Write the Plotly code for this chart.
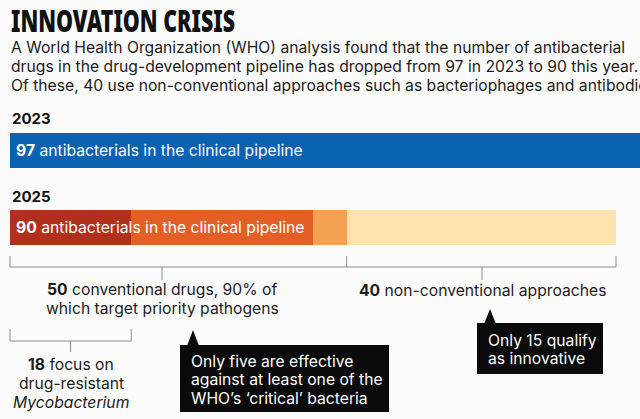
import plotly.graph_objects as go

# ---- data ----
years = ["2023", "2025"]
total_2023 = 97
seg_labels_2025 = ["Mycobacterium", "Other conventional", "Effective vs critical", "Non-conventional"]
seg_values_2025 = [18, 27, 5, 40]
seg_colors_2025 = ["#b1301b", "#e35f26", "#f4a252", "#fde3ae"]
color_2023 = "#0a63b2"
conventional = 50
non_conventional = 40
mycobacterium = 18

W, H = 640, 419
BAR_PX_LEFT = 10
PX_PER_UNIT = 606 / 90.0
BG = "#fbfbfb"
TXT = "#1c1c1c"
BODY = "Inter, 'Noto Sans', sans-serif"
FS = 15.7
TITLE_FONT = "'Noto Sans', Inter, sans-serif"
TITLE_WIDTH_PX = 224


def P(xpx):
    return xpx / W


fig = go.Figure()

row_y = {"2023": 150.5, "2025": 227.5}
bar_h = 35

fig.add_trace(go.Bar(
    orientation="h", y=[row_y["2023"]], x=[total_2023], width=bar_h,
    marker=dict(color=color_2023, line=dict(width=0)), hoverinfo="skip", showlegend=False,
))
for lab, v, c in zip(seg_labels_2025, seg_values_2025, seg_colors_2025):
    fig.add_trace(go.Bar(
        orientation="h", y=[row_y["2025"]], x=[v], width=bar_h, name=lab,
        marker=dict(color=c, line=dict(width=0)), hoverinfo="skip", showlegend=False,
    ))

x0 = -BAR_PX_LEFT / PX_PER_UNIT
x1 = (W - BAR_PX_LEFT) / PX_PER_UNIT

fig.update_layout(
    width=W, height=H, margin=dict(l=0, r=0, t=0, b=0),
    paper_bgcolor=BG, plot_bgcolor=BG, barmode="stack", bargap=0,
    xaxis=dict(range=[x0, x1], visible=False, fixedrange=True),
    yaxis=dict(range=[H, 0], visible=False, fixedrange=True),
)

ann = []


def text(t, xpx, ypx, anchor="left", size=FS, color=TXT, family=BODY, weight=None):
    f = dict(family=family, size=size, color=color)
    if weight:
        f["weight"] = weight
    ann.append(dict(text=t, x=P(xpx), y=ypx, xref="paper", yref="y",
                    xanchor=anchor, yanchor="middle", showarrow=False, font=f))


def lines(ts, xpx, y_first, step, anchor="left", size=FS, color=TXT):
    for i, t in enumerate(ts):
        text(t, xpx, y_first + i * step, anchor=anchor, size=size, color=color)


# Title (first annotation; condensed horizontally by the post script)
text("INNOVATION CRISIS", 9, 20, size=30, color="#111111", family=TITLE_FONT, weight=900)
sub_lines = [
    "A World Health Organization (WHO) analysis found that the number of antibacterial",
    "drugs in the drug-development pipeline has dropped from 97 in 2023 to 90 this year.",
    "Of these, 40 use non-conventional approaches such as bacteriophages and antibodies.",
]
lines(sub_lines, 9, 47, 19)

# Year labels
text("<b>%s</b>" % years[0], 10, 118, size=15, color="#111111")
text("<b>%s</b>" % years[1], 10, 196, size=15, color="#111111")

# Bar texts
text("<b>%d</b> antibacterials in the clinical pipeline" % total_2023, 14, row_y["2023"], color="white")
text("<b>%d</b> antibacterials in the clinical pipeline" % sum(seg_values_2025), 14, row_y["2025"], color="white")

shapes = []
LC = "#8c8c8c"


def line(xa, ya, xb, yb, xref="x"):
    shapes.append(dict(type="line", xref=xref, yref="y", x0=xa, y0=ya, x1=xb, y1=yb,
                       line=dict(color=LC, width=1)))


# Bracket for conventional / non-conventional
top, mid = 256, 267
line(0, top, 0, mid)
line(conventional, top, conventional, mid)
line(conventional + non_conventional, top, conventional + non_conventional, mid)
line(0, mid, conventional + non_conventional, mid)
lab1_x = 162
lab2_x = 482
line(P(lab1_x), mid, P(lab1_x), 280, xref="paper")
line(P(lab2_x), mid, P(lab2_x), 280, xref="paper")

lines(["<b>%d</b> conventional drugs, 90%% of" % conventional, "which target priority pathogens"],
      lab1_x, 289, 19, anchor="center")
text("<b>%d</b> non-conventional approaches" % non_conventional, lab2_x, 290, anchor="center")

# Mycobacterium bracket
t3, m3 = 329, 341
line(0, t3, 0, m3)
line(mycobacterium, t3, mycobacterium, m3)
line(0, m3, mycobacterium, m3)
line(mycobacterium / 2, m3, mycobacterium / 2, 352)
lines(["<b>%d</b> focus on" % mycobacterium, "drug-resistant", "<i>Mycobacterium</i>"],
      71, 364, 19, anchor="center")


# Callout boxes
def callout(xl, yt, xr, yb, apex_x, apex_y, ts, y_first, step):
    shapes.append(dict(type="rect", xref="paper", yref="y", x0=P(xl), x1=P(xr), y0=yt, y1=yb,
                       fillcolor="#0a0a0a", line=dict(width=0)))
    shapes.append(dict(type="path", xref="paper", yref="y",
                       path="M %f,%f L %f,%f L %f,%f Z" % (P(apex_x - 6), yt + 1, P(apex_x), apex_y, P(apex_x + 6), yt + 1),
                       fillcolor="#0a0a0a", line=dict(width=0)))
    lines(ts, xl + 9, y_first, step, color="white")


callout(180, 345, 389, 412, 193, 330,
        ["Only five are effective", "against at least one of the", "WHO\u2019s \u2018critical\u2019 bacteria"],
        361, 18.5)
callout(477, 323, 603, 374, 490, 309, ["Only 15 qualify", "as innovative"], 340, 18.5)

fig.update_layout(annotations=ann, shapes=shapes)

post = (
    "document.body.style.margin='0';document.body.style.padding='0';"
    "var gd=document.getElementById('{plot_id}');"
    "var t=gd.querySelectorAll('.annotation-text')[0];"
    "if(t){var bb=t.getBBox();var s=%d/bb.width;"
    "if(s<1){t.setAttribute('transform','translate('+bb.x+',0) scale('+s+',1) translate('+(-bb.x)+',0)');}}"
) % TITLE_WIDTH_PX
fig.write_html("out.html", config={"displayModeBar": False}, post_script=post)
